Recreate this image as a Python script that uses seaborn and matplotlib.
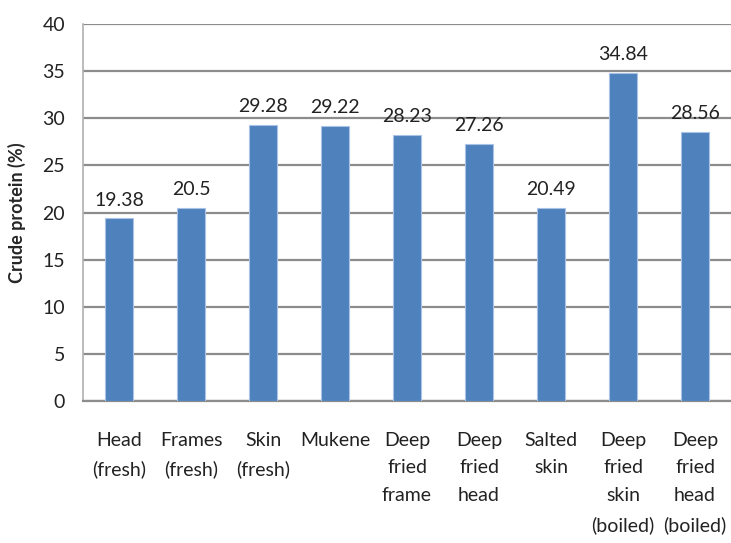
import matplotlib
matplotlib.use("Agg")
import matplotlib.pyplot as plt
import seaborn as sns
import pandas as pd

categories = [
    "Head\n(fresh)", "Frames\n(fresh)", "Skin\n(fresh)", "Mukene",
    "Deep\nfried\nframe", "Deep\nfried\nhead", "Salted\nskin",
    "Deep\nfried\nskin\n(boiled)", "Deep\nfried\nhead\n(boiled)",
]
protein = [19.38, 20.5, 29.28, 29.22, 28.23, 27.26, 20.49, 34.84, 28.56]
value_labels = ["19.38", "20.5", "29.28", "29.22", "28.23", "27.26", "20.49", "34.84", "28.56"]
y_ticks = [0, 5, 10, 15, 20, 25, 30, 35, 40]

sns.set_style("white")
plt.rcParams["font.family"] = ["Lato", "DejaVu Sans"]

df = pd.DataFrame({"sample": categories, "protein": protein})

fig = plt.figure(figsize=(7.31, 5.43), dpi=100)
ax = fig.add_axes([83 / 731, 142 / 543, 648 / 731, 377 / 543])

sns.barplot(data=df, x="sample", y="protein", color="#4F81BD", width=0.4,
            saturation=1, edgecolor="#a9c3e6", linewidth=0.8, ax=ax, zorder=3)

ax.set_ylim(0, 40)
ax.set_yticks(y_ticks)
ax.set_xlim(-0.5, len(categories) - 0.5)
ax.yaxis.grid(True, color="#8c8c8c", linewidth=1.6, zorder=0)
ax.set_axisbelow(True)

for side in ["top", "right"]:
    ax.spines[side].set_visible(False)
ax.spines["left"].set_color("#b0b0b0")
ax.spines["left"].set_linewidth(1.2)
ax.spines["bottom"].set_color("#8c8c8c")
ax.spines["bottom"].set_linewidth(1.6)

ax.tick_params(axis="y", length=7, width=1.2, color="#b0b0b0", labelsize=14,
               labelcolor="#222222", pad=6)
ax.tick_params(axis="x", length=0, labelsize=14, labelcolor="#222222", pad=22)
for lbl in ax.get_xticklabels():
    lbl.set_verticalalignment("top")
    lbl.set_linespacing(1.78)

ax.bar_label(ax.containers[0], labels=value_labels, padding=7, fontsize=14,
             color="#222222")

ax.set_xlabel("")
ax.set_ylabel("Crude protein (%)", fontsize=13, fontweight="bold", labelpad=12)

fig.savefig("out.png", dpi=100)
